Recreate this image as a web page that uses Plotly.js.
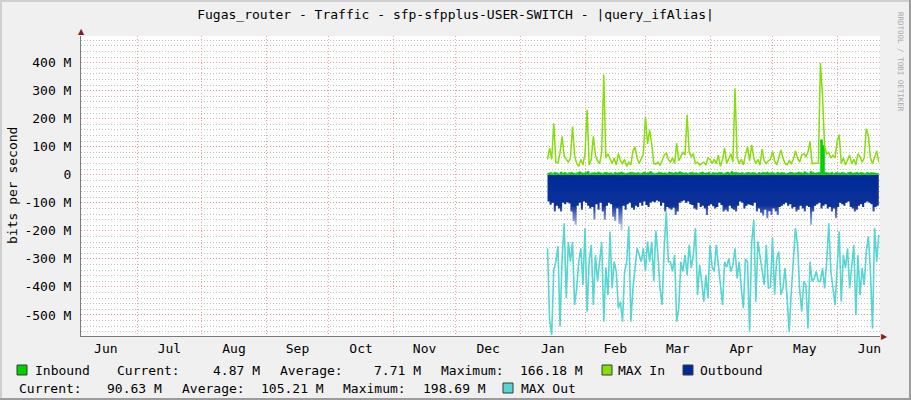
<!DOCTYPE html>
<html><head><meta charset="utf-8">
<script src="https://cdn.plot.ly/plotly-3.0.1.min.js"></script>
<style>
html,body{margin:0;padding:0;background:#F0F0F0;}
#wrap{position:relative;width:911px;height:400px;overflow:hidden;}
#chart{width:911px;height:400px;}
.b{position:absolute;pointer-events:none;}
</style></head><body>
<div id="wrap"><div id="chart"></div>
<div class="b" style="left:0;top:0;width:911px;height:2px;background:#CFCFCF"></div>
<div class="b" style="left:0;top:0;width:2px;height:400px;background:#CFCFCF"></div>
<div class="b" style="left:0;bottom:0;width:911px;height:2px;background:#9C9C9C"></div>
<div class="b" style="right:0;top:0;width:2px;height:400px;background:#9C9C9C"></div>
</div>
<script>
// ---- data (values in M bits/s), one value per day starting 2024-01-14 ----
const startDate = '2024-01-14';

const inbound = [
 6, 8, 5, 9, 7, 4, 10, 6, 8, 5,
 7, 9, 6, 5, 8, 11, 7, 6, 9, 12,
 5, 7, 8, 6, 10, 7, 5, 9, 8, 6,
 7, 5, 9, 6, 8, 10, 7, 5, 6, 8,
 9, 7, 6, 8, 5, 7, 10, 6, 8, 12,
 7, 5, 6, 9, 8, 6, 7, 5, 10, 8,
 6, 9, 7, 11, 8, 6, 7, 5, 8, 9,
 6, 7, 5, 8, 10, 6, 7, 9, 5, 8,
 7, 6, 9, 8, 5, 7, 10, 6, 12, 8,
 9, 7, 6, 8, 5, 7, 9, 6, 8, 7,
 5, 8, 6, 9, 7, 10, 6, 8, 7, 5,
 9, 6, 8, 7, 5, 6, 9, 8, 6, 7,
 10, 8, 6, 11, 7, 5, 12, 8, 6, 7,
 9, 125, 105, 8, 7, 6, 9, 5, 8, 7,
 6, 9, 7, 5, 8, 10, 6, 7, 9, 6,
 8, 7, 5, 9, 6, 8, 7, 6, 5, 4.87
];

const maxIn = [
 55, 95, 55, 184, 45, 42, 78, 137, 65, 55,
 45, 60, 172, 70, 40, 30, 55, 35, 75, 232,
 35, 55, 137, 70, 50, 40, 80, 357, 60, 75,
 55, 40, 60, 35, 75, 50, 40, 55, 30, 45,
 35, 85, 100, 60, 40, 55, 75, 208, 110, 160,
 110, 40, 38, 45, 35, 50, 70, 77, 55, 45,
 60, 40, 113, 50, 65, 80, 70, 214, 80, 65,
 75, 40, 45, 35, 40, 45, 35, 60, 55, 40,
 55, 40, 70, 30, 55, 95, 40, 60, 75, 45,
 309, 60, 40, 55, 35, 70, 100, 50, 107, 60,
 40, 55, 35, 92, 50, 40, 50, 55, 83, 50,
 35, 60, 89, 60, 40, 35, 50, 40, 55, 85,
 60, 45, 70, 75, 65, 80, 119, 40, 40, 40,
 42, 399, 280, 100, 75, 80, 60, 70, 60, 119,
 143, 40, 60, 35, 50, 70, 40, 55, 35, 75,
 65, 45, 60, 164, 140, 60, 40, 60, 85, 45
];

const outbound = [
 -95, -107, -100, -131, -110, -120, -131, -100, -105, -98,
 -102, -131, -165, -178, -110, -100, -125, -95, -100, -110,
 -120, -115, -160, -105, -125, -100, -131, -160, -110, -100,
 -105, -150, -165, -120, -175, -199, -110, -125, -105, -100,
 -118, -125, -110, -115, -100, -110, -95, -108, -115, -100,
 -95, -98, -92, -95, -110, -100, -131, -115, -120, -125,
 -118, -143, -131, -100, -95, -92, -100, -95, -105, -108,
 -120, -125, -100, -115, -110, -120, -143, -110, -105, -112,
 -120, -115, -100, -108, -131, -125, -131, -110, -120, -125,
 -131, -110, -95, -100, -120, -110, -105, -108, -110, -100,
 -131, -120, -135, -145, -125, -155, -130, -143, -120, -131,
 -143, -115, -110, -105, -100, -110, -105, -120, -115, -131,
 -125, -110, -120, -131, -110, -115, -178, -131, -110, -105,
 -100, -120, -110, -105, -120, -115, -131, -120, -155, -115,
 -100, -105, -110, -100, -95, -115, -120, -131, -125, -110,
 -105, -115, -100, -95, -100, -105, -131, -115, -110, -90.63
];

const maxOut = [
 -262, -518, -571, -340, -310, -255, -541, -300, -173, -440,
 -240, -310, -240, -464, -405, -310, -262, -393, -190, -488,
 -310, -250, -464, -286, -380, -310, -240, -524, -330, -429,
 -202, -405, -310, -345, -476, -453, -524, -345, -310, -184,
 -524, -405, -330, -262, -286, -310, -262, -345, -238, -310,
 -238, -380, -200, -286, -405, -464, -262, -131, -310, -310,
 -345, -286, -524, -476, -310, -345, -286, -357, -250, -333,
 -286, -190, -429, -322, -380, -453, -357, -440, -250, -330,
 -345, -250, -320, -405, -464, -310, -330, -298, -345, -322,
 -262, -369, -310, -405, -476, -300, -310, -559, -240, -161,
 -453, -238, -286, -345, -393, -250, -405, -400, -226, -428,
 -300, -274, -428, -405, -333, -440, -560, -420, -310, -190,
 -250, -405, -488, -380, -393, -548, -310, -380, -370, -345,
 -380, -380, -333, -405, -310, -173, -345, -405, -464, -333,
 -202, -452, -286, -333, -262, -405, -333, -250, -500, -286,
 -429, -333, -393, -274, -220, -345, -548, -190, -310, -214
];

const yTickVals = [-500, -400, -300, -200, -100, 0, 100, 200, 300, 400];
const yTickText = ['-500 M', '-400 M', '-300 M', '-200 M', '-100 M', '0', '100 M', '200 M', '300 M', '400 M'];

const titleText = 'Fugas_router - Traffic - sfp-sfpplus-USER-SWITCH - |query_ifAlias|';
const legendRow1 = [
  ['Inbound', 'left', 34], ['Current:', 'left', 116], ['4.87 M', 'right', 261],
  ['Average:', 'left', 279], ['7.71 M', 'right', 422], ['Maximum:', 'left', 440],
  ['166.18 M', 'right', 584], ['MAX In', 'left', 617], ['Outbound', 'left', 699]
];
const legendRow2 = [
  ['Current:', 'left', 18], ['90.63 M', 'right', 163], ['Average:', 'left', 181],
  ['105.21 M', 'right', 325], ['Maximum:', 'left', 342], ['198.69 M', 'right', 487],
  ['MAX Out', 'left', 520]
];

// ---- colours ----
const C_IN = '#00CF00', C_MAXIN = '#86DE0A', C_OUT = '#002A97', C_MAXOUT = '#55D6D3';

// ---- build x dates ----
const t0 = Date.parse(startDate + 'T00:00:00Z');
const xs = inbound.map((_, i) => new Date(t0 + i * 86400000).toISOString().slice(0, 10));

const traces = [
  {x: xs, y: outbound, type: 'scatter', mode: 'lines', fill: 'tozeroy', line: {color: C_OUT, width: 0, shape: 'hv'},
   fillgradient: {type: 'vertical', start: -200, stop: 0,
     colorscale: [[0, '#d3d9ee'], [0.25, '#6f84c6'], [0.45, '#0d3199'], [1, C_OUT]]}},
  {x: xs, y: inbound, type: 'scatter', mode: 'lines', fill: 'tozeroy', fillcolor: C_IN, line: {color: C_IN, width: 0.5, shape: 'hv'}},
  {x: xs, y: maxIn, type: 'scatter', mode: 'lines', line: {color: C_MAXIN, width: 1.5}},
  {x: xs, y: maxOut, type: 'scatter', mode: 'lines', line: {color: C_MAXOUT, width: 1.6}}
];

const W = 911, H = 400, L = 81, R = 31, T = 36, B = 64;
const pw = W - L - R, ph = H - T - B;
const px = v => (v - L) / pw;
const py = v => (H - B - v) / ph;

const mono = 'DejaVu Sans Mono';
const annotations = [];
legendRow1.forEach(([t, a, p]) => annotations.push({text: t, xref: 'paper', yref: 'paper', x: px(p), y: py(370.5), xanchor: a, yanchor: 'middle', showarrow: false, borderpad: 0, font: {family: mono, size: 13, color: '#000'}}));
legendRow2.forEach(([t, a, p]) => annotations.push({text: t, xref: 'paper', yref: 'paper', x: px(p), y: py(388), xanchor: a, yanchor: 'middle', showarrow: false, borderpad: 0, font: {family: mono, size: 13, color: '#000'}}));
annotations.push({text: 'bits per second', xref: 'paper', yref: 'paper', x: px(12), y: 0.5, xanchor: 'center', yanchor: 'middle', textangle: -90, showarrow: false, font: {family: mono, size: 13, color: '#000'}});
annotations.push({text: 'RRDTOOL / TOBI OETIKER', xref: 'paper', yref: 'paper', x: px(901), y: py(62), xanchor: 'center', yanchor: 'middle', textangle: 90, showarrow: false, borderpad: 0, font: {family: mono, size: 7.5, color: '#A8A8A8'}});
annotations.push({text: '▲', xref: 'paper', yref: 'paper', x: 0, y: py(32), xanchor: 'center', yanchor: 'middle', showarrow: false, font: {family: 'DejaVu Sans', size: 8, color: '#8B1A1A'}});
annotations.push({text: '▶', xref: 'paper', yref: 'paper', x: px(884), y: 0, xanchor: 'center', yanchor: 'middle', showarrow: false, font: {family: 'DejaVu Sans', size: 8, color: '#8B1A1A'}});

const box = (x0, x1, y0, y1, c) => ({type: 'rect', xref: 'paper', yref: 'paper', x0: px(x0), x1: px(x1), y0: py(y1), y1: py(y0), fillcolor: c, line: {color: '#3a3a3a', width: 1}});
const shapes = [
  box(17, 27, 365, 375, C_IN),
  box(602, 612, 365, 375, C_MAXIN),
  box(683, 693, 365, 375, C_OUT),
  box(503, 513, 383, 393, C_MAXOUT)
];

const layout = {
  width: W, height: H,
  margin: {l: L, r: R, t: T, b: B, pad: 0},
  paper_bgcolor: '#F0F0F0', plot_bgcolor: '#FFFFFF',
  showlegend: false,
  font: {family: mono, size: 13, color: '#000'},
  title: {text: titleText, font: {family: mono, size: 13, color: '#000'},
          x: 0.5, xref: 'container', xanchor: 'center', y: 1 - 14 / H, yref: 'container', yanchor: 'middle'},
  xaxis: {type: 'date', range: ['2023-06-04 02:00', '2024-06-21 14:00'],
          tick0: '2023-07-01', dtick: 'M1', tickformat: '%b', ticklabelmode: 'period',
          showgrid: true, gridcolor: '#EBA5A5', griddash: '1px,2px', gridwidth: 1,
          showline: true, linecolor: '#7A7A7A', linewidth: 1, ticks: '', zeroline: false,
          tickfont: {family: mono, size: 13, color: '#000'}, fixedrange: true},
  yaxis: {range: [-575, 495], tickmode: 'array', tickvals: yTickVals, ticktext: yTickText,
          showgrid: true, gridcolor: '#E89C9C', griddash: '1px,2px', gridwidth: 1,
          zeroline: false, showline: true, linecolor: '#7A7A7A', linewidth: 1, ticks: '',
          tickfont: {family: mono, size: 13, color: '#000'}, ticklabelstandoff: 6,
          minor: {tickmode: 'linear', tick0: 0, dtick: 20, showgrid: true, gridcolor: '#C2C2C2', griddash: '1px,2px', gridwidth: 1, ticks: ''},
          fixedrange: true},
  annotations: annotations,
  shapes: shapes
};

Plotly.newPlot('chart', traces, layout, {staticPlot: true, displayModeBar: false});
</script>
</body></html>
